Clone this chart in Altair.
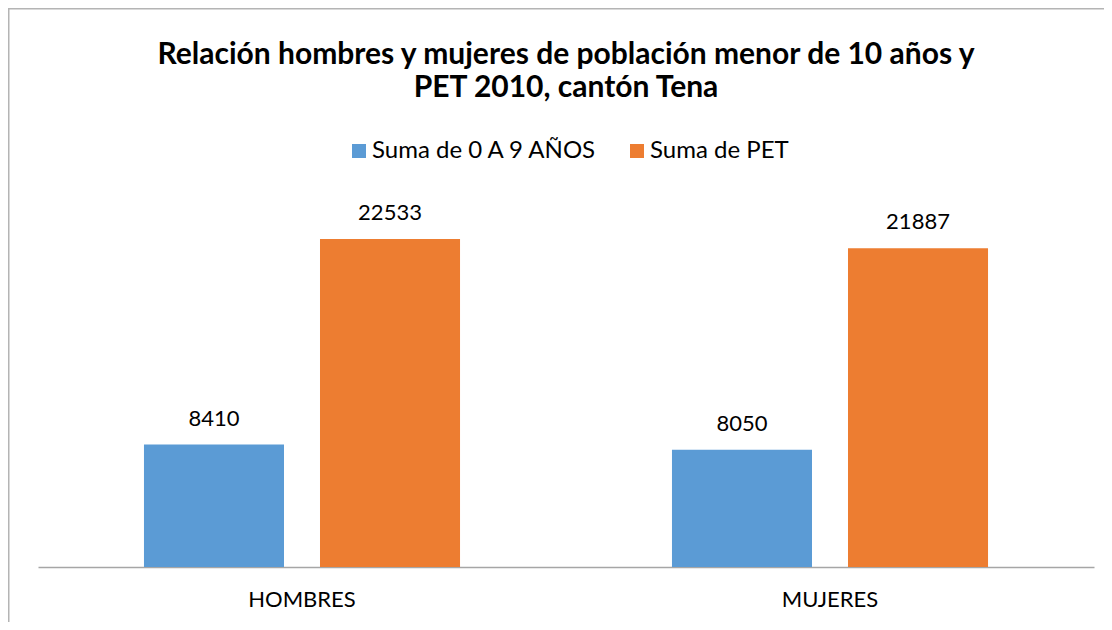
import altair as alt
import pandas as pd

categories = ["HOMBRES", "MUJERES"]
series = ["Suma de 0 A 9 AÑOS", "Suma de PET"]
values_0a9 = [8410, 8050]
values_pet = [22533, 21887]
colors = ["#5B9BD5", "#ED7D31"]

rows = []
for i, c in enumerate(categories):
    rows.append({"cat": c, "serie": series[0], "valor": values_0a9[i]})
    rows.append({"cat": c, "serie": series[1], "valor": values_pet[i]})
df = pd.DataFrame(rows)

FONT = "Lato"

x_enc = alt.X("cat:N", sort=categories,
              scale=alt.Scale(paddingInner=0, paddingOuter=0),
              axis=alt.Axis(title=None, labelAngle=0, ticks=False,
                            labelFont=FONT, labelFontSize=22, labelColor="#000000",
                            labelPadding=22, domainColor="#a6a6a6", domainWidth=1.5))
xoff_enc = alt.XOffset("serie:N", sort=series,
                       scale=alt.Scale(paddingInner=0.2045, paddingOuter=0.602))
y_enc = alt.Y("valor:Q", scale=alt.Scale(domain=[0, 25000], nice=False, zero=True), axis=None)

base = alt.Chart(df)

bars = base.mark_bar().encode(
    x=x_enc,
    xOffset=xoff_enc,
    y=y_enc,
    color=alt.Color("serie:N", sort=series,
                    scale=alt.Scale(domain=series, range=colors),
                    legend=alt.Legend(title=None, orient="none", legendX=309, legendY=-64,
                                      direction="horizontal", symbolType="square",
                                      symbolSize=196, symbolStrokeWidth=0,
                                      labelFont=FONT, labelFontSize=24, labelColor="#000000",
                                      labelOffset=1, columnPadding=27, labelLimit=400)),
)

labels = base.mark_text(font=FONT, fontSize=22, color="#000000",
                        baseline="alphabetic", dy=-19).encode(
    x=alt.X("cat:N", sort=categories),
    xOffset=alt.XOffset("serie:N", sort=series),
    y=alt.Y("valor:Q"),
    text=alt.Text("valor:Q", format="d"),
)

border = alt.Chart(pd.DataFrame({"a": [0]})).mark_rect(
    fill=None, stroke="#b4b4b4", strokeWidth=1.5
).encode(
    x=alt.value(-29.25), x2=alt.value(1300),
    y=alt.value(-194.25), y2=alt.value(1000),
)

chart = alt.layer(border, bars, labels).properties(
    width=1056,
    height=364,
    title=alt.TitleParams(
        text=["Relación hombres y mujeres de población menor de 10 años y",
              "PET 2010, cantón Tena"],
        font=FONT, fontSize=30, fontWeight="bold", color="#000000",
        anchor="middle", lineHeight=33, offset=-95),
    autosize=alt.AutoSizeParams(type="none"),
    padding={"left": 30, "top": 195, "right": 10, "bottom": 55},
).configure(background="white").configure_view(stroke=None)

chart.save("out.html", embed_options={"renderer": "svg", "actions": False})
